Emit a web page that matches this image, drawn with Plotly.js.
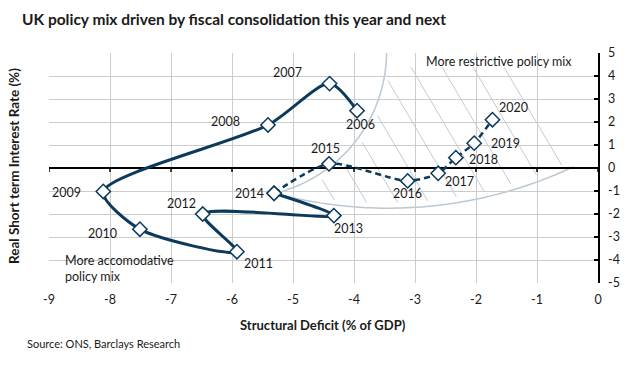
<!DOCTYPE html>
<html>
<head>
<meta charset="utf-8">
<script src="https://cdn.plot.ly/plotly-3.0.1.min.js"></script>
<style>html,body{margin:0;padding:0;background:#fff}#chart{width:636px;height:367px}</style>
</head>
<body>
<div id="chart"></div>
<script>
// ---- data ----
const years   = ['2006','2007','2008','2009','2010','2011','2012','2013','2014','2015','2016','2017','2018','2019','2020'];
const deficit = [-3.95,-4.40,-5.41,-8.11,-7.51,-5.92,-6.48,-4.33,-5.31,-4.41,-3.12,-2.62,-2.33,-2.03,-1.73];
const rate    = [ 2.49, 3.67, 1.87,-1.02,-2.66,-3.64,-2.00,-2.07,-1.10, 0.18,-0.56,-0.23, 0.45, 1.08, 2.10];
const xTicks  = [-9,-8,-7,-6,-5,-4,-3,-2,-1,0];
const yTicks  = [-5,-4,-3,-2,-1,0,1,2,3,4,5];
// label offsets in px (dx right, dy down) relative to each point
const labelDx = [  3,-42,-42,-37,-37, 22,-21, 15,-25, -3,  0, 21, 28, 31, 21];
const labelDy = [ 14,-11, -3,  1,  4, 12,-11, 13,  0,-15, 13,  8,  2,  0,-12];

// ---- layout geometry ----
const M = {l:49, r:38, t:53, b:84};
const W = 636 - M.l - M.r, H = 367 - M.t - M.b;
const X0 = -9, X1 = 0, Y0 = -5, Y1 = 5;
const toDX = px => X0 + (px - M.l) / W * (X1 - X0);
const toDY = py => Y1 - (py - M.t) / H * (Y1 - Y0);

const navy = '#0c3a5b';
const solidIdx = [0,1,2,3,4,5,6,7,8];
const dashIdx  = [8,9,10,11,12,13,14];

const traces = [
  {x: solidIdx.map(i=>deficit[i]), y: solidIdx.map(i=>rate[i]), mode:'lines+markers',
   line:{color:navy, width:3, shape:'spline', smoothing:0.75},
   marker:{symbol:'diamond', size:11, color:'#fff', line:{color:navy, width:1.5}},
   hoverinfo:'skip', showlegend:false},
  {x: dashIdx.map(i=>deficit[i]), y: dashIdx.map(i=>rate[i]), mode:'lines+markers',
   line:{color:navy, width:2.5, shape:'spline', smoothing:0.75, dash:'6px,4px'},
   marker:{symbol:'diamond', size:11, color:'#fff', line:{color:navy, width:1.5}},
   hoverinfo:'skip', showlegend:false}
];

const shapes = [];
// ---- decorative region (arcs + hatching), defined in pixel geometry ----
const LC = {cx:240.6, cy:51.3, r:146};
const BC = {cx:388, cy:-227.3, r:435.5};
function arcPath(c, a0, a1, n) {
  let d = '';
  for (let i = 0; i <= n; i++) {
    const a = (a0 + (a1 - a0) * i / n) * Math.PI / 180;
    const px = c.cx + c.r * Math.cos(a), py = c.cy + c.r * Math.sin(a);
    d += (i ? ' L ' : 'M ') + toDX(px).toFixed(4) + ',' + toDY(py).toFixed(4);
  }
  return d;
}
const arcStyle = {color:'#b9c8d3', width:1.5};
shapes.push(
  {type:'path', path: arcPath(LC, -2, 76.5, 60), xref:'x', yref:'y', line:arcStyle, layer:'below'},
  {type:'path', path: arcPath(BC, 105, 64.8, 60), xref:'x', yref:'y', line:arcStyle, layer:'below'}
);
function inRegion(px, py) {
  const dl = Math.hypot(px - LC.cx, py - LC.cy);
  const db = Math.hypot(px - BC.cx, py - BC.cy);
  return dl > LC.r && db < BC.r && py >= 62 && px < 590;
}
const slope = 1.7, inset = 6;
const ux = 1 / Math.hypot(1, slope), uy = slope / Math.hypot(1, slope);
for (let k = 0; k < 11; k++) {
  const x0 = 501 - 31 * k, y0 = 62;
  let sFirst = null, sLast = null;
  for (let s = -400; s <= 400; s += 0.5) {
    const px = x0 + s * ux, py = y0 + s * uy;
    if (inRegion(px, py)) { if (sFirst === null) sFirst = s; sLast = s; }
  }
  if (sFirst === null) continue;
  const a = sFirst + inset, b = sLast - inset;
  if (b - a < 8) continue;
  shapes.push({type:'line', xref:'x', yref:'y', layer:'below',
    x0: toDX(x0 + a * ux), y0: toDY(y0 + a * uy),
    x1: toDX(x0 + b * ux), y1: toDY(y0 + b * uy),
    line:{color:'#bfcdd7', width:1}});
}
// small tick marks hanging below the zero line (axis decoration)
xTicks.forEach(v => shapes.push({type:'line', xref:'x', yref:'y', layer:'above',
  x0:v, x1:v, y0:0, y1:toDY(M.t + H/2 + 4), line:{color:'#000', width:1.5}}));

// ---- annotations ----
const font = 'Lato, "Open Sans", sans-serif';
const txt = '#1a1a1a';
const annotations = years.map((yr, i) => ({
  x: deficit[i], y: rate[i], xref:'x', yref:'y', text: yr, showarrow:false,
  xanchor:'center', yanchor:'middle',
  xshift: labelDx[i], yshift: -labelDy[i], font:{family:font, size:12.5, color:txt}
}));
const P = (text, px, py, extra) => Object.assign({xref:'paper', yref:'paper',
  x:(px - M.l)/W, y:1 - (py - M.t)/H, text:text, showarrow:false,
  xanchor:'center', yanchor:'middle'}, extra);
annotations.push(
  P('More restrictive policy mix', 499, 61, {font:{family:font, size:12.5, color:txt}}),
  P('More accomodative<br>policy mix', 63, 268, {xanchor:'left', align:'left', font:{family:font, size:12.5, color:txt}}),
  P('Real Short term Interest Rate (%)', 14, 166, {textangle:-90, font:{family:font, size:13.5, color:txt, weight:'bold'}}),
  P('Structural Deficit (% of GDP)', 323, 325, {font:{family:font, size:13, color:txt, weight:'bold'}}),
  P('Source: ONS, Barclays Research', 25, 343, {xanchor:'left', font:{family:font, size:11, color:txt}})
);

const layout = {
  width:636, height:367, margin:M, paper_bgcolor:'#fff', plot_bgcolor:'#fff',
  title:{text:'UK policy mix driven by fiscal consolidation this year and next',
    xref:'container', yref:'container', x:22/636, xanchor:'left', y:1 - 20/367, yanchor:'middle',
    font:{family:font, size:15.5, color:txt, weight:'bold'}},
  xaxis: {range:[X0, X1], tickvals:xTicks, ticktext:xTicks.map(String),
    showgrid:true, gridcolor:'#cccccc', gridwidth:1,
    zeroline:false, showline:false, ticks:'', ticklabelstandoff:7,
    tickfont:{family:font, size:12.5, color:txt}, fixedrange:true},
  yaxis: {range:[Y0, Y1], tickvals:yTicks, ticktext:yTicks.map(String), side:'right',
    showgrid:true, gridcolor:'#cccccc', gridwidth:1,
    showline:true, linecolor:'#000', linewidth:1.5, ticks:'inside', ticklen:4, tickcolor:'#000', tickwidth:1.5,
    zeroline:true, zerolinecolor:'#000', zerolinewidth:1.5, ticklabelstandoff:6,
    tickfont:{family:font, size:12.5, color:txt}, fixedrange:true},
  shapes: shapes,
  annotations: annotations
};
Plotly.newPlot('chart', traces, layout, {displayModeBar:false, staticPlot:true});
</script>
</body>
</html>
